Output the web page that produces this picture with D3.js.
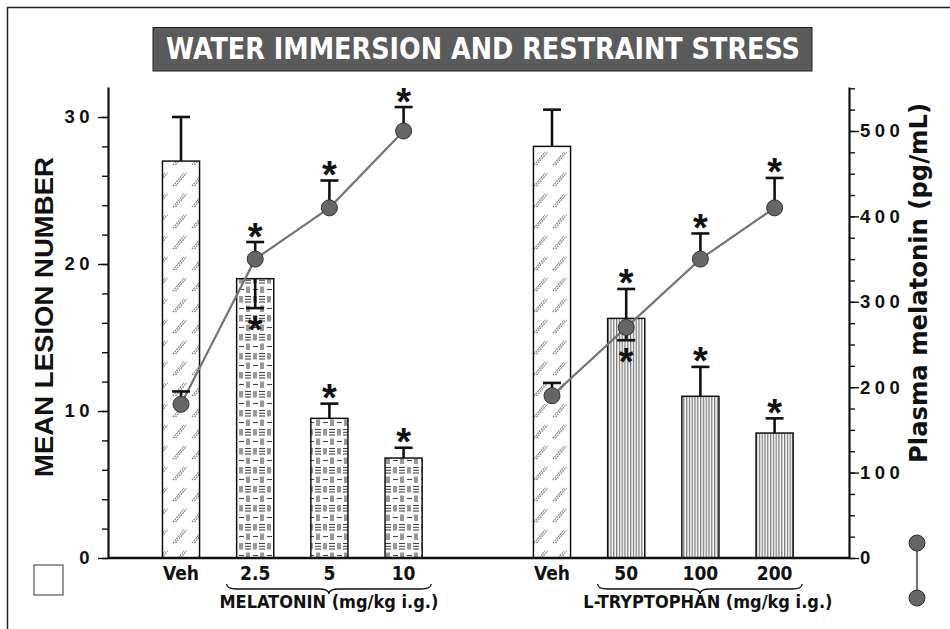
<!DOCTYPE html>
<html><head><meta charset="utf-8">
<script src="https://cdn.jsdelivr.net/npm/d3@7"></script>
<style>
body{margin:0;background:#fff;}
svg{display:block;}
</style></head><body>
<svg id="chart" width="950" height="629"></svg>
<script>
// ---------------- data ----------------
const title = "WATER IMMERSION AND RESTRAINT STRESS";
const categories = ["Veh", "2.5", "5", "10", "Veh", "50", "100", "200"];
const groupOf = ["MEL", "MEL", "MEL", "MEL", "TRP", "TRP", "TRP", "TRP"];
const treatment = ["veh", "mel", "mel", "mel", "veh", "trp", "trp", "trp"];
const groupKeys = ["MEL", "TRP"];
const groupLabels = ["MELATONIN (mg/kg i.g.)", "L-TRYPTOPHAN (mg/kg i.g.)"];
const lesionMean = [27, 19, 9.5, 6.8, 28, 16.3, 11, 8.5];
const lesionSEM = [3, 2, 1, 0.7, 2.5, 2, 2, 1];
const lesionErrDir = [1, -1, 1, 1, 1, 1, 1, 1];
const lesionSig = [false, true, true, true, false, true, true, true];
const melatoninLevel = [180, 350, 410, 500, 190, 270, 350, 410];
const melatoninSEM = [15, 20, 32, 28, 15, 15, 30, 35];
const melatoninErrDir = [1, 1, 1, 1, 1, -1, 1, 1];
const melatoninSig = [false, true, true, true, false, true, true, true];
const leftTicks = [0, 10, 20, 30];
const leftMinorTicks = d3.range(0, 31, 2);
const rightTicks = [0, 100, 200, 300, 400, 500];
const rightMinorTicks = d3.range(0, 551, 25);
const leftLabel = "MEAN LESION NUMBER";
const rightLabel = "Plasma melatonin (pg/mL)";

// ---------------- layout ----------------
const svg = d3.select("#chart");
const baseY = 558, topY = 87, leftX = 108, rightX = 849;
const narrow = "'Liberation Sans Narrow','DejaVu Sans Condensed',sans-serif";
const arial = "'Liberation Sans',Arial,sans-serif";

const keys = [];
categories.forEach((c, i) => {
  if (i > 0 && groupOf[i] !== groupOf[i - 1]) keys.push("gap");
  keys.push(groupOf[i] + "|" + c);
});
const keyOf = i => groupOf[i] + "|" + categories[i];
const x = d3.scaleBand().domain(keys).range([143.9, 811.7]).paddingInner(0.5).paddingOuter(0.25);
const cx = i => x(keyOf(i)) + x.bandwidth() / 2;
const yL = d3.scaleLinear().domain([0, 32.04]).range([baseY, topY]);
const yR = d3.scaleLinear().domain([0, 551.5]).range([baseY, topY]);

// frame
svg.append("rect").attr("x", 7.5).attr("y", 7.5).attr("width", 960).attr("height", 640)
  .attr("fill", "none").attr("stroke", "#222").attr("stroke-width", 1.5);

// patterns
const defs = svg.append("defs");
const pVeh = defs.append("pattern").attr("id", "pVeh").attr("patternUnits", "userSpaceOnUse")
  .attr("width", 19).attr("height", 21);
pVeh.append("rect").attr("width", 19).attr("height", 21).attr("fill", "#fff");
[2, 4.5].forEach(dx => {
  pVeh.append("line").attr("x1", dx).attr("y1", 18).attr("x2", dx + 11).attr("y2", 5)
    .attr("stroke", "#808080").attr("stroke-width", 1.2).attr("stroke-dasharray", "1.8,0.9");
});
const pMel = defs.append("pattern").attr("id", "pMel").attr("patternUnits", "userSpaceOnUse")
  .attr("width", 14).attr("height", 19);
pMel.append("rect").attr("width", 14).attr("height", 19).attr("fill", "#fff");
const melLines = [
  [1, 4.5, 6, 4.5], [9, 1.5, 9, 8], [11, 1.5, 11, 8],
  [2, 11, 2, 17.5], [4, 11, 4, 17.5], [7, 11.5, 13, 11.5], [7, 14.3, 13, 14.3], [7, 17, 13, 17]
];
melLines.forEach(l => pMel.append("line").attr("x1", l[0]).attr("y1", l[1]).attr("x2", l[2]).attr("y2", l[3])
  .attr("stroke", "#444").attr("stroke-width", 1.1));
const pTrp = defs.append("pattern").attr("id", "pTrp").attr("patternUnits", "userSpaceOnUse")
  .attr("width", 2.8).attr("height", 10);
pTrp.append("rect").attr("width", 2.8).attr("height", 10).attr("fill", "#fff");
pTrp.append("line").attr("x1", 0.7).attr("y1", 0).attr("x2", 0.7).attr("y2", 10)
  .attr("stroke", "#555").attr("stroke-width", 1);
const fillOf = { veh: "url(#pVeh)", mel: "url(#pMel)", trp: "url(#pTrp)" };

// title
svg.append("rect").attr("x", 153).attr("y", 27.5).attr("width", 659).attr("height", 43.5)
  .attr("fill", "#5b5b5b").attr("stroke", "#222").attr("stroke-width", 1);
svg.append("text").attr("x", 483).attr("y", 59).attr("text-anchor", "middle")
  .attr("font-family", narrow).attr("font-weight", "bold").attr("font-size", 31)
  .attr("fill", "#fff").attr("textLength", 634).attr("lengthAdjust", "spacingAndGlyphs")
  .text(title);

// bars
const idx = d3.range(categories.length);
svg.append("g").selectAll("rect").data(idx).join("rect")
  .attr("x", i => x(keyOf(i))).attr("width", x.bandwidth())
  .attr("y", i => yL(lesionMean[i])).attr("height", i => baseY - yL(lesionMean[i]))
  .attr("fill", i => fillOf[treatment[i]]).attr("stroke", "#111").attr("stroke-width", 1.5);

function errorBars(g, vals, errs, dirs, scale) {
  g.selectAll("line.v").data(idx).join("line").attr("class", "v")
    .attr("x1", cx).attr("x2", cx)
    .attr("y1", i => scale(vals[i])).attr("y2", i => scale(vals[i] + dirs[i] * errs[i]))
    .attr("stroke", "#111").attr("stroke-width", 2.6);
  g.selectAll("line.c").data(idx).join("line").attr("class", "c")
    .attr("x1", i => cx(i) - 9).attr("x2", i => cx(i) + 9)
    .attr("y1", i => scale(vals[i] + dirs[i] * errs[i])).attr("y2", i => scale(vals[i] + dirs[i] * errs[i]))
    .attr("stroke", "#111").attr("stroke-width", 2.6);
}
function stars(g, vals, errs, dirs, sig, scale) {
  g.selectAll("text").data(idx.filter(i => sig[i])).join("text")
    .attr("x", cx)
    .attr("y", i => scale(vals[i] + dirs[i] * errs[i]) - dirs[i] * 13.5 + 21)
    .attr("text-anchor", "middle").attr("font-family", arial).attr("font-weight", "bold")
    .attr("font-size", 38).attr("fill", "#111").text("*");
}
errorBars(svg.append("g"), lesionMean, lesionSEM, lesionErrDir, yL);

// lines (one per group)
const line = d3.line().x(i => cx(i)).y(i => yR(melatoninLevel[i]));
groupKeys.forEach(gk => {
  svg.append("path").datum(idx.filter(i => groupOf[i] === gk)).attr("d", line)
    .attr("fill", "none").attr("stroke", "#757575").attr("stroke-width", 2.2);
});
errorBars(svg.append("g"), melatoninLevel, melatoninSEM, melatoninErrDir, yR);
svg.append("g").selectAll("circle").data(idx).join("circle")
  .attr("cx", cx).attr("cy", i => yR(melatoninLevel[i])).attr("r", 8)
  .attr("fill", "#666").attr("stroke", "#333").attr("stroke-width", 1);
stars(svg.append("g"), lesionMean, lesionSEM, lesionErrDir, lesionSig, yL);
stars(svg.append("g"), melatoninLevel, melatoninSEM, melatoninErrDir, melatoninSig, yR);

// axes
function styleAxis(g) {
  g.selectAll(".domain").attr("stroke", "#111").attr("stroke-width", 2.2);
  g.selectAll(".tick line").attr("stroke", "#111").attr("stroke-width", 1.4);
  g.selectAll(".tick text").attr("font-family", arial).attr("font-weight", "bold")
    .attr("font-size", 18.5).attr("fill", "#111").style("letter-spacing", "4.5px");
}
const gLm = svg.append("g").attr("transform", `translate(${leftX},0)`)
  .call(d3.axisLeft(yL).tickValues(leftMinorTicks).tickSize(6).tickSizeOuter(0).tickFormat(""));
styleAxis(gLm);
const gL = svg.append("g").attr("transform", `translate(${leftX},0)`)
  .call(d3.axisLeft(yL).tickValues(leftTicks).tickSize(10).tickPadding(4).tickSizeOuter(0));
gL.select(".domain").remove();
styleAxis(gL);
const gRm = svg.append("g").attr("transform", `translate(${rightX},0)`)
  .call(d3.axisRight(yR).tickValues(rightMinorTicks).tickSize(6).tickSizeOuter(0).tickFormat(""));
styleAxis(gRm);
const gR = svg.append("g").attr("transform", `translate(${rightX},0)`)
  .call(d3.axisRight(yR).tickValues(rightTicks).tickSize(10).tickPadding(1).tickSizeOuter(0));
gR.select(".domain").remove();
styleAxis(gR);

// baseline
svg.append("line").attr("x1", leftX).attr("x2", rightX).attr("y1", baseY).attr("y2", baseY)
  .attr("stroke", "#111").attr("stroke-width", 2.6);

// x labels
svg.append("g").selectAll("text").data(idx).join("text")
  .attr("x", cx).attr("y", 580).attr("text-anchor", "middle")
  .attr("font-family", narrow).attr("font-weight", "bold").attr("font-size", 19)
  .attr("fill", "#111").text(i => categories[i]);

// braces and group labels
const labelShift = [0, 8];
groupKeys.forEach((gk, k) => {
  const members = idx.filter(i => groupOf[i] === gk && treatment[i] !== "veh");
  const x0 = x(keyOf(members[0])) - 10;
  const x1 = x(keyOf(members[members.length - 1])) + x.bandwidth() + 9;
  const xm = (x0 + x1) / 2, y0 = 584;
  const p = d3.path();
  p.moveTo(x0, y0);
  p.quadraticCurveTo(x0, y0 + 5, x0 + 10, y0 + 5);
  p.lineTo(xm - 10, y0 + 5);
  p.quadraticCurveTo(xm, y0 + 5, xm, y0 + 10);
  p.quadraticCurveTo(xm, y0 + 5, xm + 10, y0 + 5);
  p.lineTo(x1 - 10, y0 + 5);
  p.quadraticCurveTo(x1, y0 + 5, x1, y0);
  svg.append("path").attr("d", p.toString()).attr("fill", "none").attr("stroke", "#111").attr("stroke-width", 1.3);
  svg.append("text").attr("x", xm + labelShift[k]).attr("y", 608).attr("text-anchor", "middle")
    .attr("font-family", narrow).attr("font-weight", "bold").attr("font-size", 18).attr("fill", "#111")
    .text(groupLabels[k]);
});

// axis titles
svg.append("text").attr("transform", "translate(53,317) rotate(-90)").attr("text-anchor", "middle")
  .attr("font-family", arial).attr("font-weight", "bold").attr("font-size", 26).attr("fill", "#111")
  .attr("textLength", 320).attr("lengthAdjust", "spacingAndGlyphs").text(leftLabel);
svg.append("text").attr("transform", "translate(927,283) rotate(-90)").attr("text-anchor", "middle")
  .attr("font-family", "'DejaVu Sans',sans-serif").attr("font-weight", "bold").attr("font-size", 24).attr("fill", "#111")
  .attr("textLength", 360).attr("lengthAdjust", "spacingAndGlyphs").text(rightLabel);

// legend symbols
svg.append("rect").attr("x", 34).attr("y", 565).attr("width", 29).attr("height", 30)
  .attr("fill", "#fff").attr("stroke", "#555").attr("stroke-width", 1.2);
svg.append("line").attr("x1", 917).attr("x2", 917).attr("y1", 543).attr("y2", 598)
  .attr("stroke", "#757575").attr("stroke-width", 2.2);
[543, 598].forEach(cy => svg.append("circle").attr("cx", 917).attr("cy", cy).attr("r", 8)
  .attr("fill", "#666").attr("stroke", "#333").attr("stroke-width", 1));
</script>
</body></html>
